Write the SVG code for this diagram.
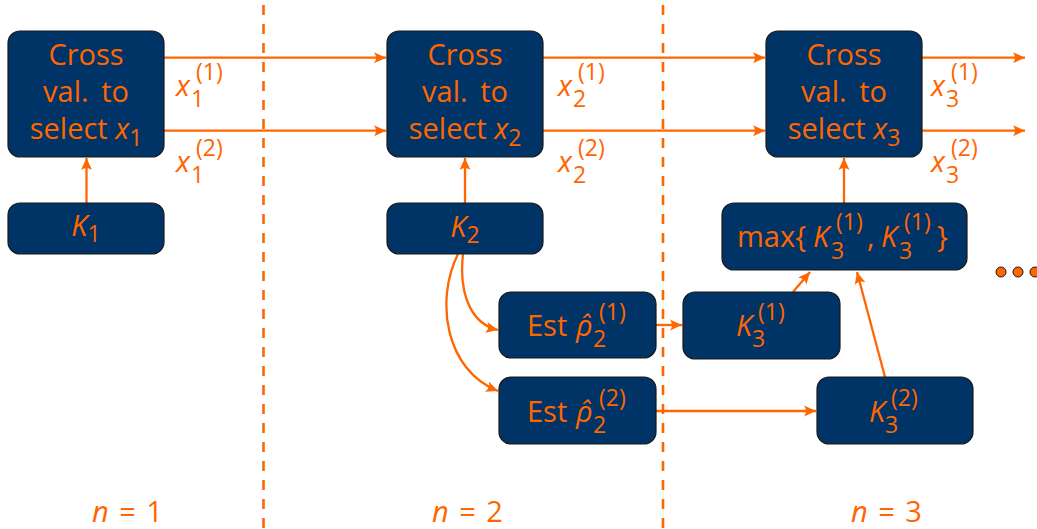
<svg xmlns="http://www.w3.org/2000/svg" width="1037" height="529" viewBox="0 0 1037 529">
<style>
.box{fill:#003366;stroke:#1a1a1a;stroke-width:1.2}
text{font-family:"Open Sans","Noto Sans","DejaVu Sans",sans-serif;font-size:29px;fill:#ff6600}
.mi{font-style:italic}
.s{font-size:23px}
.c{text-anchor:middle}
.ln{fill:none;stroke:#ff6600;stroke-width:2.3}
.dash{fill:none;stroke:#ff6600;stroke-width:2.6;stroke-dasharray:10 9}
</style>
<defs>
<marker id="ah" viewBox="-13 -7 14 14" refX="0" refY="0" markerWidth="14" markerHeight="14" markerUnits="userSpaceOnUse" orient="auto">
<path d="M0,0 L-12,-5.5 Q-8,0 -12,5.5 Z" fill="#ff6600"/>
</marker>
</defs>
<rect width="1037" height="529" fill="#ffffff"/>
<g id="separators">
<line class="dash" x1="263.5" y1="5" x2="263.5" y2="529"/>
<line class="dash" x1="663" y1="5" x2="663" y2="529"/>
</g>
<g id="connectors">
<line class="ln" x1="86.5" y1="203" x2="86.5" y2="158" marker-end="url(#ah)"/>
<line class="ln" x1="164" y1="57.7" x2="386" y2="57.7" marker-end="url(#ah)"/>
<line class="ln" x1="164" y1="130.7" x2="386" y2="130.7" marker-end="url(#ah)"/>
<line class="ln" x1="465" y1="203" x2="465" y2="158" marker-end="url(#ah)"/>
<line class="ln" x1="543" y1="57.7" x2="765" y2="57.7" marker-end="url(#ah)"/>
<line class="ln" x1="543" y1="130.7" x2="765" y2="130.7" marker-end="url(#ah)"/>
<line class="ln" x1="922" y1="57.7" x2="1025" y2="57.7" marker-end="url(#ah)"/>
<line class="ln" x1="922" y1="130.7" x2="1025" y2="130.7" marker-end="url(#ah)"/>
<line class="ln" x1="844" y1="203" x2="844" y2="158" marker-end="url(#ah)"/>
<path class="ln" d="M463,254 C458,300 475,325 498,330" marker-end="url(#ah)"/>
<path class="ln" d="M458,254 C435,300 445,370 498,391" marker-end="url(#ah)"/>
<line class="ln" x1="656" y1="325" x2="682" y2="325" marker-end="url(#ah)"/>
<line class="ln" x1="656" y1="411" x2="816" y2="411" marker-end="url(#ah)"/>
<line class="ln" x1="793" y1="292" x2="810" y2="272" marker-end="url(#ah)"/>
<line class="ln" x1="885" y1="377" x2="857" y2="272" marker-end="url(#ah)"/>
</g>
<g id="cv1">
<rect class="box" x="8" y="31" width="156" height="126" rx="12"/>
<text class="c" x="86" y="65">Cross</text>
<text class="c" x="86" y="102" word-spacing="5">val. to</text>
<text class="c" x="86" y="139">select <tspan class="mi">x</tspan><tspan class="s" dy="7">1</tspan></text>
</g>
<g id="k1">
<rect class="box" x="8" y="203" width="156" height="51" rx="12"/>
<text class="c" x="86" y="236"><tspan class="mi">K</tspan><tspan class="s" dy="6">1</tspan></text>
</g>
<g id="cv2">
<rect class="box" x="387" y="31" width="156" height="126" rx="12"/>
<text class="c" x="465" y="65">Cross</text>
<text class="c" x="465" y="102" word-spacing="5">val. to</text>
<text class="c" x="465" y="139">select <tspan class="mi">x</tspan><tspan class="s" dy="7">2</tspan></text>
</g>
<g id="k2">
<rect class="box" x="387" y="203" width="156" height="51" rx="12"/>
<text class="c" x="465" y="237"><tspan class="mi">K</tspan><tspan class="s" dy="6">2</tspan></text>
</g>
<g id="cv3">
<rect class="box" x="766" y="31" width="156" height="126" rx="12"/>
<text class="c" x="844" y="65">Cross</text>
<text class="c" x="844" y="102" word-spacing="5">val. to</text>
<text class="c" x="844" y="139">select <tspan class="mi">x</tspan><tspan class="s" dy="7">3</tspan></text>
</g>
<g id="max">
<rect class="box" x="722" y="203" width="245" height="67" rx="12"/>
<text y="247"><tspan x="737">max{</tspan><tspan class="mi" x="813">K</tspan><tspan class="s" x="831" y="259">3</tspan><tspan class="s" x="836" y="230">(1)</tspan><tspan x="867" y="247">,</tspan><tspan class="mi" x="881">K</tspan><tspan class="s" x="899" y="259">3</tspan><tspan class="s" x="904" y="230">(1)</tspan><tspan x="937" y="247">}</tspan></text>
</g>
<g id="est1">
<rect class="box" x="499" y="292" width="157" height="66" rx="12"/>
<text y="336"><tspan x="527">Est</tspan><tspan class="mi" x="576">ρ̂</tspan><tspan class="s" x="593" y="347">2</tspan><tspan class="s" x="599" y="320">(1)</tspan></text>
</g>
<g id="est2">
<rect class="box" x="499" y="377" width="157" height="67" rx="12"/>
<text y="422"><tspan x="527">Est</tspan><tspan class="mi" x="576">ρ̂</tspan><tspan class="s" x="593" y="433">2</tspan><tspan class="s" x="599" y="406">(2)</tspan></text>
</g>
<g id="k31">
<rect class="box" x="683" y="292" width="157" height="67" rx="12"/>
<text y="336"><tspan class="mi" x="736">K</tspan><tspan class="s" x="752" y="347">3</tspan><tspan class="s" x="758" y="320">(1)</tspan></text>
</g>
<g id="k32">
<rect class="box" x="817" y="377" width="156" height="67" rx="12"/>
<text y="422"><tspan class="mi" x="869">K</tspan><tspan class="s" x="885" y="433">3</tspan><tspan class="s" x="891" y="406">(2)</tspan></text>
</g>
<g id="labels">
<text y="96"><tspan class="mi" x="176">x</tspan><tspan class="s" x="191" y="107">1</tspan><tspan class="s" x="196" y="80">(1)</tspan></text>
<text y="172"><tspan class="mi" x="176">x</tspan><tspan class="s" x="191" y="183">1</tspan><tspan class="s" x="196" y="156">(2)</tspan></text>
<text y="96"><tspan class="mi" x="558">x</tspan><tspan class="s" x="573" y="107">2</tspan><tspan class="s" x="578" y="80">(1)</tspan></text>
<text y="172"><tspan class="mi" x="558">x</tspan><tspan class="s" x="573" y="183">2</tspan><tspan class="s" x="578" y="156">(2)</tspan></text>
<text y="96"><tspan class="mi" x="931">x</tspan><tspan class="s" x="946" y="107">3</tspan><tspan class="s" x="951" y="80">(1)</tspan></text>
<text y="172"><tspan class="mi" x="931">x</tspan><tspan class="s" x="946" y="183">3</tspan><tspan class="s" x="951" y="156">(2)</tspan></text>
<text x="92" y="522" word-spacing="3"><tspan class="mi">n</tspan> = 1</text>
<text x="432" y="522" word-spacing="3"><tspan class="mi">n</tspan> = 2</text>
<text x="851" y="522" word-spacing="3"><tspan class="mi">n</tspan> = 3</text>
</g>
<g id="ellipsis">
<circle cx="1001" cy="272" r="5" fill="#ff6600" stroke="#1a1a1a" stroke-width="1"/>
<circle cx="1018" cy="272" r="5" fill="#ff6600" stroke="#1a1a1a" stroke-width="1"/>
<circle cx="1035" cy="272" r="5" fill="#ff6600" stroke="#1a1a1a" stroke-width="1"/>
</g>
</svg>
